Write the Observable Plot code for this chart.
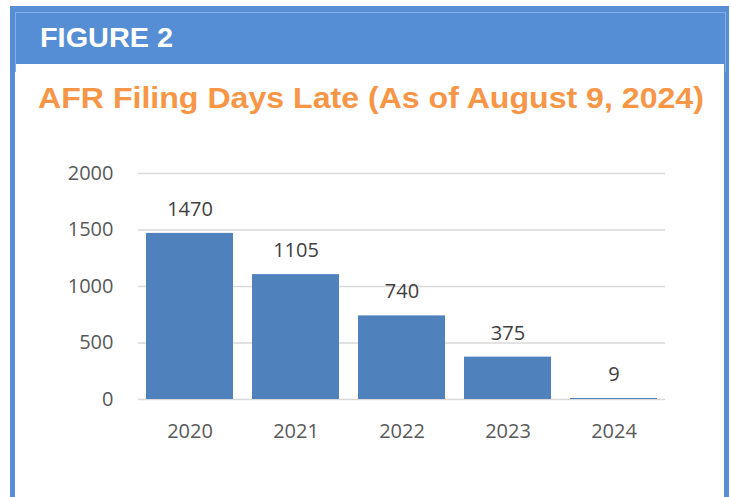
<!DOCTYPE html>
<html>
<head>
<meta charset="utf-8">
<script src="https://cdn.jsdelivr.net/npm/d3@7"></script>
<script src="https://cdn.jsdelivr.net/npm/@observablehq/plot@0.6"></script>
<style>
  html, body { margin: 0; padding: 0; background: #fff; }
  #page { position: relative; width: 731px; height: 497px; overflow: hidden; }
  #frame { position: absolute; left: 10px; top: 6px; width: 719px; height: 540px;
           border: 5px solid #558ED5; box-sizing: border-box; }
  #band { position: absolute; left: 10px; top: 6px; width: 719px; height: 58px; background: #558ED5; }
  #bandline { position: absolute; left: 15px; top: 12px; width: 711px; height: 60px;
              border: 1px solid #86AEE6; box-sizing: border-box; border-bottom: none; }
  #fig { position: absolute; left: 40px; top: 22px; color: #fff; font: bold 28px "Liberation Sans", Arial, sans-serif;
         line-height: 32px; transform: scaleX(1.03); transform-origin: left center; }
  #title { position: absolute; left: 38px; top: 81px; color: #F79646; font: bold 30px "Liberation Sans", Arial, sans-serif;
           white-space: nowrap; line-height: 34px; transform: scaleX(1.07); transform-origin: left center; }
  #chart { position: absolute; left: 0; top: 150px; }
</style>
</head>
<body>
<div id="page">
  <div id="frame"></div>
  <div id="band"></div>
  <div id="bandline"></div>
  <div id="fig">FIGURE 2</div>
  <div id="title">AFR Filing Days Late (As of August 9, 2024)</div>
  <div id="chart"></div>
</div>
<script>
const years = ["2020", "2021", "2022", "2023", "2024"];
const daysLate = [1470, 1105, 740, 375, 9];
const yTicks = [0, 500, 1000, 1500, 2000];

const data = years.map((y, i) => ({year: y, value: daysLate[i]}));

const chart = Plot.plot({
  width: 731,
  height: 300,
  marginLeft: 138,
  marginRight: 66,
  marginTop: 23,
  marginBottom: 51,
  style: { fontFamily: "'Open Sans', sans-serif", fontSize: "20px", color: "#595959", background: "transparent" },
  x: { domain: years, paddingInner: 0.175, paddingOuter: 0.07, label: null },
  y: { domain: [0, 2000], label: null },
  marks: [
    Plot.gridY(yTicks, { stroke: "#D9D9D9", strokeOpacity: 1, strokeWidth: 1.5 }),
    Plot.barY(data, { x: "year", y: "value", fill: "#4F81BD" }),
    Plot.text(data, { x: "year", y: "value", text: d => String(d.value), dy: -24, fill: "#404040", fontSize: 20 }),
    Plot.axisX({ tickSize: 0, tickPadding: 24, fontSize: 20 }),
    Plot.axisY(yTicks, { tickSize: 0, tickPadding: 25, fontSize: 20, tickFormat: d => String(d) })
  ]
});
document.getElementById("chart").appendChild(chart);
</script>
</body>
</html>
